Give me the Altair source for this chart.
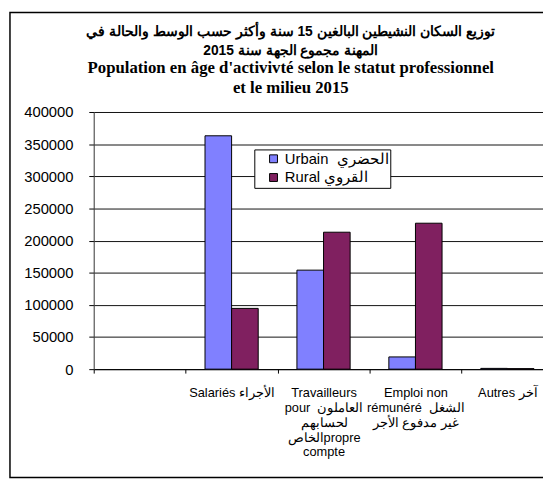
import altair as alt
import pandas as pd

title_ar = [
    "توزيع السكان النشيطين البالغين 15 سنة وأكثر حسب الوسط والحالة في",
    "المهنة مجموع الجهة سنة 2015",
]
title_fr = [
    "Population en âge d'activivté selon le statut professionnel",
    "et le milieu  2015",
]

categories = [
    " ",
    "Salariés الأجراء",
    "Travailleurs|pour\u00a0\u00a0العاملون|لحسابهم|الخاصpropre|compte",
    "Emploi non|rémunéré\u00a0\u00a0الشغل|غير مدفوع الأجر",
    "Autres آخر",
]
series = ["Urbain\u00a0\u00a0الحضري", "Rural القروي"]
urbain = [363000, 154000, 19000, 1200]
rural = [94500, 213000, 227000, 800]
y_ticks = [0, 50000, 100000, 150000, 200000, 250000, 300000, 350000, 400000]

rows = []
for c, u, r in zip(categories[1:], urbain, rural):
    rows.append({"cat": c, "series": series[0], "value": u})
    rows.append({"cat": c, "series": series[1], "value": r})
df = pd.DataFrame(rows)

W, H = 456, 261
BAND_RANGE = 466.5

bars = alt.Chart(df).mark_bar(stroke="black", strokeWidth=1).encode(
    x=alt.X(
        "cat:N",
        sort=categories,
        scale=alt.Scale(domain=categories, range=[0, BAND_RANGE], paddingInner=0, paddingOuter=0),
        axis=alt.Axis(
            title=None,
            labelExpr="split(datum.label, '|')",
            tickBand="extent",
            labelAngle=0,
            labelBaseline="top",
            labelAlign="center",
            labelFontSize=13,
            labelFont="Liberation Sans",
            labelColor="black",
            labelLineHeight=15,
            labelPadding=14,
            tickSize=4,
            tickColor="black",
            domainColor="black",
            grid=False,
        ),
    ),
    xOffset=alt.XOffset(
        "series:N",
        sort=series,
        scale=alt.Scale(domain=series, paddingInner=0, paddingOuter=0.728),
    ),
    y=alt.Y(
        "value:Q",
        scale=alt.Scale(domain=[0, 400000], nice=False),
        axis=alt.Axis(
            title=None,
            values=y_ticks,
            format="d",
            grid=True,
            gridColor="#111111",
            gridWidth=1,
            tickSize=5,
            tickColor="black",
            domainColor="#404040",
            labelPadding=16,
            labelFontSize=15,
            labelFont="Liberation Sans",
            labelColor="black",
        ),
    ),
    color=alt.Color(
        "series:N",
        sort=series,
        scale=alt.Scale(domain=series, range=["#8080FF", "#802060"]),
        legend=alt.Legend(
            title=None,
            orient="none",
            legendX=163,
            legendY=38,
            fillColor="white",
            strokeColor="black",
            padding=2,
            symbolType="square",
            symbolSize=64,
            symbolStrokeColor="black",
            symbolStrokeWidth=1,
            symbolOffset=10,
            labelFontSize=15,
            labelFont="Liberation Sans",
            labelColor="black",
            labelOffset=4,
            rowPadding=3,
            labelExpr="datum.label + '\u00a0\u00a0\u00a0'",
        ),
    ),
)

border = alt.Chart(pd.DataFrame({"k": [0]})).mark_rect(
    filled=False, stroke="black", strokeWidth=1.5
).encode(
    x=alt.value(-85), x2=alt.value(W + 200), y=alt.value(-101), y2=alt.value(H + 110)
)

chart = alt.layer(border, bars).properties(
    width=W,
    height=H,
    padding={"left": 87, "top": 102, "right": 0, "bottom": 112},
    autosize=alt.AutoSizeParams(type="none"),
    title=alt.TitleParams(
        text=title_ar,
        subtitle=title_fr,
        font="Liberation Sans",
        fontSize=14,
        fontWeight="bold",
        color="black",
        lineHeight=19,
        subtitleFont="Liberation Serif",
        subtitleFontSize=17,
        subtitleFontWeight="bold",
        subtitleColor="black",
        subtitleLineHeight=20,
        subtitlePadding=2,
        anchor="middle",
        frame="group",
        dx=-28,
        offset=-85,
    ),
).configure_view(fill="#C0C0C0", strokeWidth=0).configure(background="white")

chart.save("out.html", embed_options={"renderer": "svg", "actions": False})
